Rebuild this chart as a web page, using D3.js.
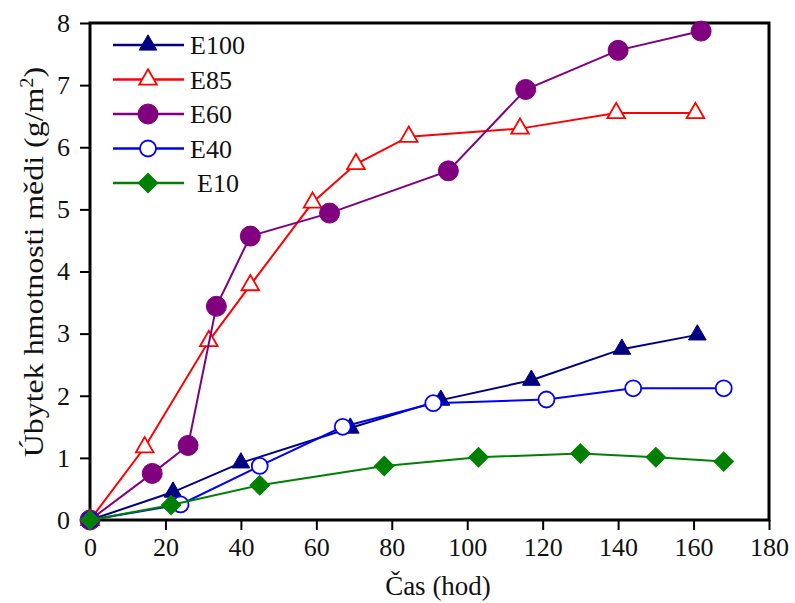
<!doctype html>
<meta charset="utf-8">
<title>Úbytek hmotnosti mědi</title>
<script src="https://cdn.jsdelivr.net/npm/d3@7"></script>
<style>
html, body { margin: 0; padding: 0; background: #fff; }
svg { display: block; font-family: "Liberation Serif", "Times New Roman", serif; }
</style>
<body>
<svg id="chart" width="795" height="603"></svg>
<script>
// data
var seriesNames = ["E100", "E85", "E60", "E40", "E10"];
var tE100 = [0, 22, 40, 69, 93, 117, 141, 161];
var vE100 = [0, 0.45, 0.92, 1.48, 1.93, 2.25, 2.75, 2.98];
var tE85 = [0, 14.5, 31.5, 42.5, 59, 70.5, 84.5, 114, 139.5, 160.5];
var vE85 = [0, 1.17, 2.88, 3.78, 5.11, 5.73, 6.17, 6.3, 6.55, 6.55];
var tE60 = [0, 16.5, 26, 33.5, 42.5, 63.5, 95, 115.5, 140, 162];
var vE60 = [0, 0.75, 1.2, 3.44, 4.57, 4.94, 5.62, 6.93, 7.56, 7.87];
var tE40 = [0, 24, 45, 67, 91, 121, 144, 168];
var vE40 = [0, 0.25, 0.87, 1.5, 1.88, 1.94, 2.12, 2.12];
var tE10 = [0, 21.5, 45, 78, 103, 130, 150, 168];
var vE10 = [0, 0.24, 0.56, 0.87, 1.01, 1.07, 1.01, 0.94];
var xTicks = [0, 20, 40, 60, 80, 100, 120, 140, 160, 180];
var yTicks = [0, 1, 2, 3, 4, 5, 6, 7, 8];

var series = [
  {name: "E100", t: tE100, v: vE100, color: "#000080", shape: "triangle", filled: true},
  {name: "E85",  t: tE85,  v: vE85,  color: "#ff0000", shape: "triangle", filled: false},
  {name: "E60",  t: tE60,  v: vE60,  color: "#800080", shape: "bigcircle", filled: true},
  {name: "E40",  t: tE40,  v: vE40,  color: "#0000ff", shape: "circle", filled: false},
  {name: "E10",  t: tE10,  v: vE10,  color: "#008000", shape: "diamond", filled: true}
];

var plotLeft = 90, plotRight = 769, plotTop = 23, plotBottom = 520;

var svg = d3.select("#chart");
svg.append("rect").attr("width", 795).attr("height", 603).attr("fill", "#fff");

var x = d3.scaleLinear().domain([0, 180]).range([plotLeft, plotRight]);
var y = d3.scaleLinear().domain([0, 8]).range([plotBottom, plotTop]);

// axes
var xAxis = svg.append("g")
  .attr("transform", "translate(0," + plotBottom + ")")
  .call(d3.axisBottom(x).tickValues(xTicks).tickSize(10).tickPadding(8));
var yAxis = svg.append("g")
  .attr("transform", "translate(" + plotLeft + ",0)")
  .call(d3.axisLeft(y).tickValues(yTicks).tickSize(10).tickPadding(10));

[xAxis, yAxis].forEach(function(a) {
  a.select(".domain").remove();
  a.selectAll(".tick line").attr("stroke", "#000").attr("stroke-width", 2);
  a.selectAll(".tick text")
    .attr("fill", "#111")
    .style("font-size", "26px")
    .style("font-family", "'Liberation Serif', serif");
});

// frame
svg.append("rect")
  .attr("x", plotLeft).attr("y", plotTop)
  .attr("width", plotRight - plotLeft).attr("height", plotBottom - plotTop)
  .attr("fill", "none").attr("stroke", "#000").attr("stroke-width", 3);

function markerPath(shape) {
  if (shape === "triangle") return d3.symbol().type(d3.symbolTriangle).size(135)();
  if (shape === "diamond") return d3.symbol().type(d3.symbolSquare).size(190)();
  if (shape === "bigcircle") return d3.symbol().type(d3.symbolCircle).size(Math.PI * 100)();
  return d3.symbol().type(d3.symbolCircle).size(Math.PI * 64)();
}

var line = d3.line().x(function(d) { return x(d[0]); }).y(function(d) { return y(d[1]); });

series.forEach(function(s) {
  var pts = d3.zip(s.t, s.v);
  var g = svg.append("g");
  g.append("path")
    .attr("d", line(pts))
    .attr("fill", "none")
    .attr("stroke", s.color)
    .attr("stroke-width", 2);
  g.selectAll("path.m").data(pts).enter().append("path")
    .attr("class", "m")
    .attr("d", markerPath(s.shape))
    .attr("transform", function(d) {
      return "translate(" + x(d[0]) + "," + y(d[1]) + ")" + (s.shape === "diamond" ? " rotate(45)" : "");
    })
    .attr("fill", s.filled ? s.color : "#fff")
    .attr("stroke", s.color)
    .attr("stroke-width", s.filled ? 1 : 1.8);
});

// legend
var legY = d3.scalePoint().domain(seriesNames).range([45, 183]);
series.forEach(function(s) {
  var ly = legY(s.name);
  svg.append("line")
    .attr("x1", 113).attr("x2", 184).attr("y1", ly).attr("y2", ly)
    .attr("stroke", s.color).attr("stroke-width", 2.5);
  svg.append("path")
    .attr("d", markerPath(s.shape))
    .attr("transform", "translate(148," + ly + ")" + (s.shape === "diamond" ? " rotate(45)" : ""))
    .attr("fill", s.filled ? s.color : "#fff")
    .attr("stroke", s.color)
    .attr("stroke-width", s.filled ? 1 : 1.8);
  svg.append("text")
    .attr("x", s.name === "E10" ? 197 : 190)
    .attr("y", ly + 9)
    .attr("fill", "#111")
    .style("font-size", "26px")
    .text(s.name);
});

// axis titles
svg.append("text")
  .attr("x", 438).attr("y", 595)
  .attr("text-anchor", "middle")
  .attr("fill", "#111")
  .style("font-size", "27px")
  .text("Čas (hod)");

// the y title is a bit stretched along its length in the original
var yl = svg.append("text")
  .attr("transform", "translate(43,262) rotate(-90) scale(1.14,1)")
  .attr("text-anchor", "middle")
  .attr("fill", "#111")
  .style("font-size", "28px");
yl.append("tspan").text("Úbytek hmotnosti mědi (g/m");
yl.append("tspan").attr("dy", -10).style("font-size", "18px").text("2");
yl.append("tspan").attr("dy", 10).text(")");
</script>
</body>
